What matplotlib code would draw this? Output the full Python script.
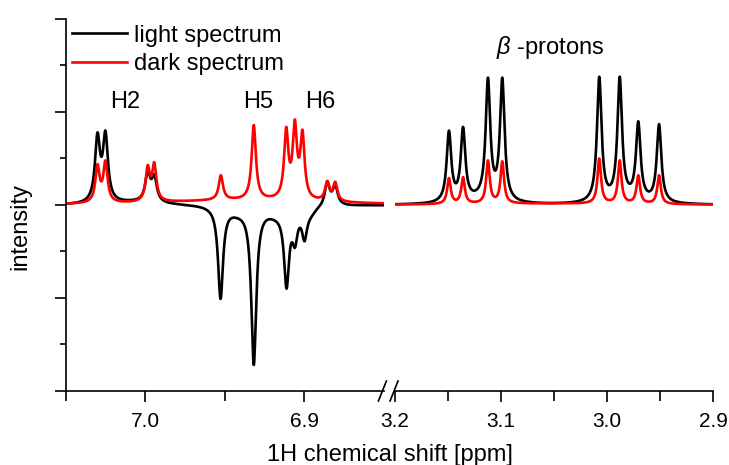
import matplotlib
matplotlib.use("Agg")
import matplotlib.pyplot as plt
import numpy as np
from matplotlib.ticker import FixedLocator, FormatStrFormatter, MultipleLocator

plt.rcParams["font.family"] = ["Liberation Sans", "DejaVu Sans"]
plt.rcParams["mathtext.fontset"] = "custom"
plt.rcParams["mathtext.it"] = "Liberation Sans:italic"
plt.rcParams["mathtext.rm"] = "Liberation Sans"

# Peak lists: position [ppm] and apparent height
# (baseline = 0, one y-tick = 1 unit). Broad humps are (ppm, height, half width).

# aromatic region, 7.05 - 6.85 ppm
AROM_PPM_DARK = [7.0302, 7.0252, 6.9986, 6.9945, 6.9526, 6.9319,
                 6.9115, 6.9061, 6.9013, 6.8857, 6.8807]
AROM_HEIGHT_DARK = [0.44, 0.48, 0.43, 0.46, 0.32, 0.86,
                    0.84, 0.92, 0.81, 0.26, 0.25]
AROM_BROAD_DARK = [(6.94, 0.05, 0.06)]

AROM_PPM_LIGHT = [7.0302, 7.0252, 6.9986, 6.9945, 6.9528, 6.9319,
                  6.9113, 6.9060, 6.9000, 6.8857, 6.8807]
AROM_HEIGHT_LIGHT = [0.78, 0.80, 0.37, 0.33, -1.01, -1.72,
                     -0.90, -0.46, -0.39, 0.25, 0.22]
AROM_BROAD_LIGHT = [(7.005, 0.03, 0.02), (6.942, -0.05, 0.007),
                    (6.918, -0.07, 0.008), (6.896, -0.06, 0.004)]

# beta-proton region, 3.2 - 2.9 ppm
BETA_PPM = [3.1491, 3.1358, 3.1123, 3.0988, 3.0073, 2.9880, 2.9705, 2.9509]
BETA_HEIGHT_LIGHT = [0.80, 0.84, 1.37, 1.37, 1.38, 1.38, 0.90, 0.87]
BETA_HEIGHT_DARK = [0.29, 0.30, 0.48, 0.47, 0.50, 0.48, 0.32, 0.32]
BETA_BROAD_LIGHT = [(3.12, 0.04, 0.02), (2.98, 0.04, 0.02)]
BETA_BROAD_DARK = [(3.05, 0.015, 0.1)]

LINE_WIDTH = {"arom_dark": 0.0016, "arom_light": 0.0019,
              "beta_dark": 0.0020, "beta_light": 0.0026}


def lorentz(x, x0, g):
    return 1.0 / (1.0 + ((x - x0) / g) ** 2)


def spectrum(ppm, peaks, heights, width, broad):
    peaks = np.asarray(peaks)
    heights = np.asarray(heights)

    def base(x):
        return sum(a * lorentz(x, c, w) for c, a, w in broad)

    # amplitudes chosen so the summed curve hits the read heights
    m = lorentz(peaks[:, None], peaks[None, :], width)
    amps = np.linalg.solve(m, heights - base(peaks))
    return base(ppm) + lorentz(ppm[:, None], peaks[None, :], width) @ amps


fig = plt.figure(figsize=(7.29, 4.65), dpi=100)
W, H = 729, 465
ax1 = fig.add_axes([66 / W, 1 - 391 / H, 318 / W, 372 / H])
ax2 = fig.add_axes([395 / W, 1 - 391 / H, 318 / W, 372 / H])

ppm1 = np.linspace(7.05, 6.85, 3000)
ppm2 = np.linspace(3.2, 2.9, 3000)

light1 = spectrum(ppm1, AROM_PPM_LIGHT, AROM_HEIGHT_LIGHT, LINE_WIDTH["arom_light"], AROM_BROAD_LIGHT)
dark1 = spectrum(ppm1, AROM_PPM_DARK, AROM_HEIGHT_DARK, LINE_WIDTH["arom_dark"], AROM_BROAD_DARK)
light2 = spectrum(ppm2, BETA_PPM, BETA_HEIGHT_LIGHT, LINE_WIDTH["beta_light"], BETA_BROAD_LIGHT)
dark2 = spectrum(ppm2, BETA_PPM, BETA_HEIGHT_DARK, LINE_WIDTH["beta_dark"], BETA_BROAD_DARK)

lw = 1.9
hl, = ax1.plot(ppm1, light1, color="black", lw=lw, label="light spectrum")
hd, = ax1.plot(ppm1, dark1, color="#ff0000", lw=lw, label="dark spectrum")
ax2.plot(ppm2, light2, color="black", lw=lw)
ax2.plot(ppm2, dark2, color="#ff0000", lw=lw)

for ax in (ax1, ax2):
    ax.set_ylim(-2, 2)
    ax.spines["top"].set_visible(False)
    ax.spines["right"].set_visible(False)
    for s in ax.spines.values():
        s.set_linewidth(1.2)
    ax.tick_params(which="major", direction="out", length=8, width=1.2,
                   labelsize=15, pad=7)
    ax.tick_params(which="minor", direction="out", length=7, width=1.2)
    ax.xaxis.set_major_formatter(FormatStrFormatter("%.1f"))

ax1.set_xlim(7.05, 6.85)
ax1.xaxis.set_major_locator(FixedLocator([7.0, 6.9]))
ax1.xaxis.set_minor_locator(FixedLocator([7.05, 6.95]))
ax1.yaxis.set_major_locator(MultipleLocator(1))
ax1.yaxis.set_minor_locator(MultipleLocator(0.5))
ax1.tick_params(axis="y", which="minor", length=4)
ax1.set_yticklabels([])

ax2.set_xlim(3.2, 2.9)
ax2.xaxis.set_major_locator(FixedLocator([3.2, 3.1, 3.0, 2.9]))
ax2.xaxis.set_minor_locator(FixedLocator([3.15, 3.05, 2.95]))
ax2.spines["left"].set_visible(False)
ax2.set_yticks([])

# axis break marks
dx, dy = 4 / 318, 10 / 372
for ax, xc in ((ax1, 0.995), (ax2, -0.003)):
    ax.plot([xc - dx, xc + dx], [-dy, dy], color="black", lw=1.2,
            transform=ax.transAxes, clip_on=False)

ax1.text(7.0129, 1.11, "H2", fontsize=17, ha="center", va="center")
ax1.text(6.9292, 1.11, "H5", fontsize=17, ha="center", va="center")
ax1.text(6.8903, 1.11, "H6", fontsize=17, ha="center", va="center")
ax2.text(3.0538, 1.69, r"$\beta$ -protons", fontsize=17, ha="center", va="center")

ax1.legend(handles=[hl, hd], loc="upper left", bbox_to_anchor=(0.02, 0.985),
           frameon=False, fontsize=17, handlelength=2.3, handletextpad=0.3,
           labelspacing=0.27, borderpad=0, borderaxespad=0.0)

fig.text(390 / W, 1 - 455 / H, "1H chemical shift [ppm]", fontsize=17,
         ha="center", va="center")
fig.text(20 / W, 1 - 226 / H, "intensity", fontsize=17, rotation=90,
         ha="center", va="center")

fig.savefig("out.png", dpi=100)
